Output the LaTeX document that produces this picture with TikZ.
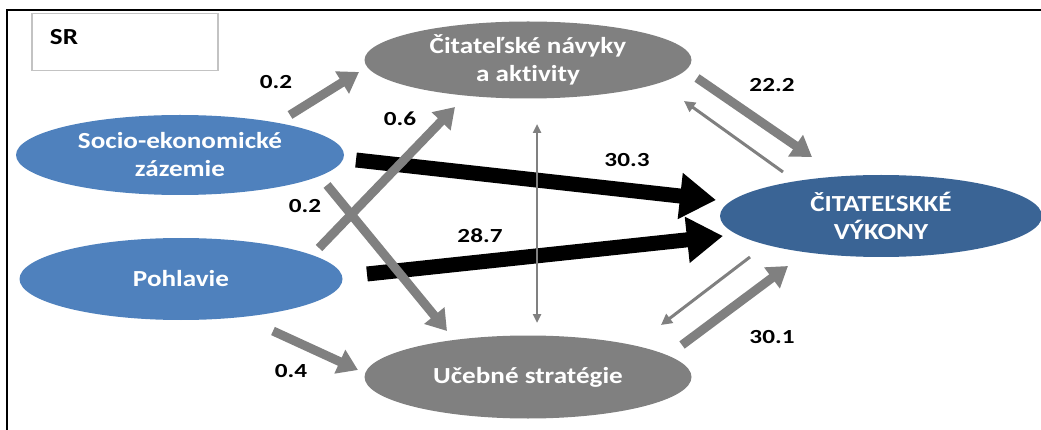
\documentclass[tikz,border=0pt]{standalone}
\usepackage{fontspec}
\setmainfont{Carlito}[Ligatures={NoCommon}]
\usetikzlibrary{arrows.meta,shapes.geometric}

\definecolor{ovalblue}{HTML}{4F81BD}
\definecolor{ovaldark}{HTML}{3A6495}
\definecolor{ovalgray}{HTML}{808080}
\definecolor{boxline}{HTML}{C3C3C3}

% Calibri-like lettering is set a little wide
\newcommand{\wideA}[1]{\scalebox{1.18}[1]{#1}}
\newcommand{\wideB}[1]{\scalebox{1.26}[1]{#1}}

\begin{document}
\begin{tikzpicture}[x=1pt,y=-1pt,
  oval/.style={ellipse, inner sep=0pt, text=white, align=center,
    font=\fontsize{23}{28}\selectfont\bfseries},
  val/.style={inner sep=0pt, font=\fontsize{20}{24}\selectfont\bfseries},
  heavy/.style={draw=black, line width=15pt, -{Triangle[length=36pt,width=44pt]}},
  broad/.style={draw=ovalgray, line width=9pt, -{Triangle[length=20pt,width=25pt]}},
  slim/.style={draw=ovalgray, line width=3pt, -{Triangle[length=11pt,width=11pt]}},
  hair/.style={draw=ovalgray, line width=2.5pt,
    {Triangle[length=9pt,width=8pt]}-{Triangle[length=9pt,width=8pt]}}
]
\useasboundingbox (0,0) rectangle (1041,430);
\clip (0,0) rectangle (1041,430);

% outer frame (runs off the right and bottom edges)
\draw[line width=2.8pt] (7,450) -- (7,10) -- (1060,10);

% legend box
\node (srbox) [draw=boxline, line width=1.5pt, anchor=north west,
  minimum width=186pt, minimum height=57pt, inner sep=0pt] at (31,13) {};
\node (sr) [inner sep=0pt, font=\fontsize{23}{28}\selectfont\bfseries] at (64,37) {\wideA{SR}};

% variables
\node (socio) [oval, fill=ovalblue, minimum width=328pt, minimum height=80pt] at (180,155)
  {\wideA{Socio-ekonomické}\\\wideA{zázemie}};
\node (pohl) [oval, fill=ovalblue, minimum width=323pt, minimum height=82pt] at (181,279)
  {\wideA{Pohlavie}};
\node (navyky) [oval, fill=ovalgray, minimum width=327pt, minimum height=77pt] at (528,60)
  {\wideA{Čitateľské návyky}\\\wideA{a aktivity}};
\node (uceb) [oval, fill=ovalgray, minimum width=327pt, minimum height=83pt] at (528,377)
  {\wideA{Učebné stratégie}};
\node (vykon) [oval, fill=ovaldark, minimum width=322pt, minimum height=82pt] at (881,216)
  {\wideA{ČITATEĽSKKÉ}\\\wideA{VÝKONY}};

% arrow end points
\coordinate (sn0) at (290,115);  \coordinate (sn1) at (359,72);
\coordinate (pn0) at (319,248);  \coordinate (pn1) at (455,107);
\coordinate (su0) at (327,185);  \coordinate (su1) at (447,331);
\coordinate (pu0) at (273,331);  \coordinate (pu1) at (358,370);
\coordinate (sv0) at (356,160);  \coordinate (sv1) at (716,200);
\coordinate (pv0) at (367,274);  \coordinate (pv1) at (723,236);
\coordinate (nu0) at (537,124);  \coordinate (nu1) at (537,323);
\coordinate (nv0) at (697,78);   \coordinate (nv1) at (812,157);
\coordinate (vn0) at (783,172);  \coordinate (vn1) at (684,101);
\coordinate (uv0) at (682,345);  \coordinate (uv1) at (788,266);
\coordinate (vu0) at (750,257);  \coordinate (vu1) at (661,325);

% direct effects on performance
\draw[heavy] (sv0) -- (sv1);
\draw[heavy] (pv0) -- (pv1);

% paths through habits and strategies
\draw[broad] (sn0) -- (sn1);
\draw[broad] (pn0) -- (pn1);
\draw[broad] (su0) -- (su1);
\draw[broad] (pu0) -- (pu1);
\draw[broad] (nv0) -- (nv1);
\draw[broad] (uv0) -- (uv1);
\draw[slim] (vn0) -- (vn1);
\draw[slim] (vu0) -- (vu1);
\draw[hair] (nu0) -- (nu1);

% coefficients
\node (l1) [val] at (276,82)  {\wideB{0.2}};
\node (l2) [val] at (400,119) {\wideB{0.6}};
\node (l3) [val] at (305,206) {\wideB{0.2}};
\node (l4) [val] at (291,371) {\wideB{0.4}};
\node (l5) [val] at (627,160) {\wideB{30.3}};
\node (l6) [val] at (480,236) {\wideB{28.7}};
\node (l7) [val] at (772,85)  {\wideB{22.2}};
\node (l8) [val] at (772,337) {\wideB{30.1}};
\end{tikzpicture}
\end{document}
